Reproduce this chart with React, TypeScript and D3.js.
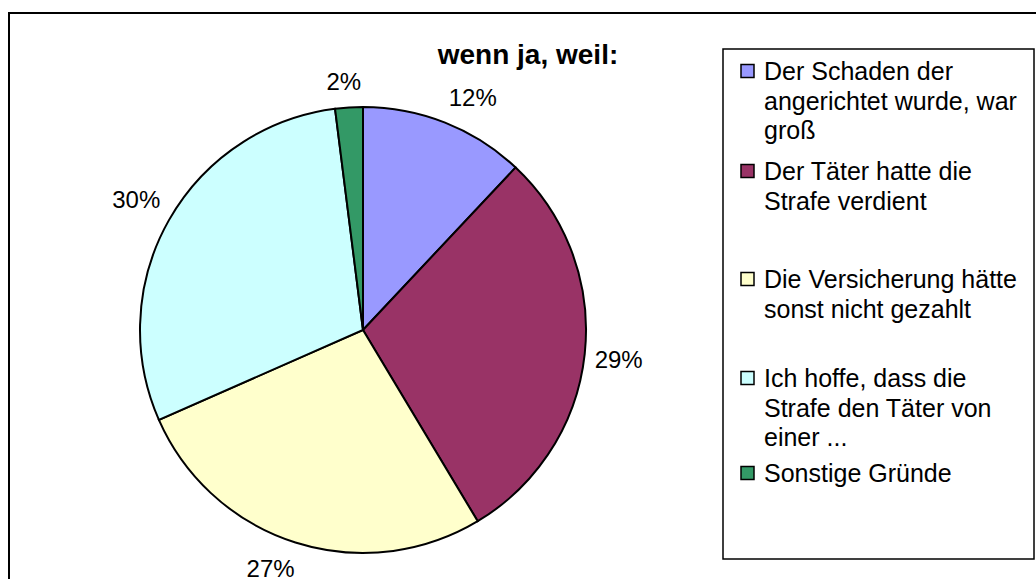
import React from "react";
import * as d3 from "d3";

const categories = [
  "Der Schaden der angerichtet wurde, war groß",
  "Der Täter hatte die Strafe verdient",
  "Die Versicherung hätte sonst nicht gezahlt",
  "Ich hoffe, dass die Strafe den Täter von einer ...",
  "Sonstige Gründe",
];
const values = [12, 29.4, 27, 29.6, 2];
const legendLines = [
  ["Der Schaden der", "angerichtet wurde, war", "groß"],
  ["Der Täter hatte die", "Strafe verdient"],
  ["Die Versicherung hätte", "sonst nicht gezahlt"],
  ["Ich hoffe, dass die", "Strafe den Täter von", "einer ..."],
  ["Sonstige Gründe"],
];
const colors = ["#9999FF", "#993366", "#FFFFCC", "#CCFFFF", "#339966"];
const title = "wenn ja, weil:";

// layout
const cx = 363;
const cy = 330;
const radius = 223;
const font = "'Liberation Sans', Arial, sans-serif";
const legendX = 723;
const legendY = 49;
const legendW = 311;
const legendH = 510;
const entryBaseline = [80, 180, 288, 387, 482];
const lineStep = 29.5;

const clamp = (v: number) => Math.max(-1, Math.min(1, v));

const App = () => {
  const pie = d3.pie<number>().sort(null).value((d) => d);
  const arcs = pie(values);
  const arc = d3.arc<d3.PieArcDatum<number>>().innerRadius(0).outerRadius(radius);
  const total = d3.sum(values);

  // excel-like outside-end label: box corner sits just outside the rim
  const labelPos = (a: d3.PieArcDatum<number>) => {
    const mid = (a.startAngle + a.endAngle) / 2;
    const s = Math.sin(mid);
    const c = Math.cos(mid);
    const r = radius + 10;
    return [cx + r * s + 24 * clamp(3 * s), cy - r * c - 16 * clamp(3 * c)];
  };

  return (
    <svg
      width={1036}
      height={579}
      style={{ position: "absolute", left: 0, top: 0, background: "#fff" }}
      fontFamily={font}
    >
      <rect x={9} y={13} width={1040} height={600} fill="#fff" stroke="#000" strokeWidth={2} />
      <text x={528} y={64} textAnchor="middle" fontSize={28} fontWeight="bold">
        {title}
      </text>
      <g transform={`translate(${cx},${cy})`}>
        {arcs.map((a, i) => (
          <path key={categories[i]} d={arc(a) || ""} fill={colors[i]} stroke="#000" strokeWidth={2} />
        ))}
      </g>
      {arcs.map((a, i) => {
        const [x, y] = labelPos(a);
        return (
          <text key={i} x={x} y={y} textAnchor="middle" dominantBaseline="central" fontSize={24}>
            {Math.round((a.data / total) * 100)}%
          </text>
        );
      })}
      <rect x={legendX} y={legendY} width={legendW} height={legendH} fill="#fff" stroke="#000" strokeWidth={1.5} />
      {legendLines.map((lines, i) => (
        <g key={i}>
          <rect
            x={741}
            y={entryBaseline[i] - 15.5}
            width={13}
            height={13}
            fill={colors[i]}
            stroke="#000"
            strokeWidth={1.5}
          />
          {lines.map((t, j) => (
            <text key={j} x={764} y={entryBaseline[i] + j * lineStep} fontSize={25}>
              {t}
            </text>
          ))}
        </g>
      ))}
    </svg>
  );
};

export default App;
